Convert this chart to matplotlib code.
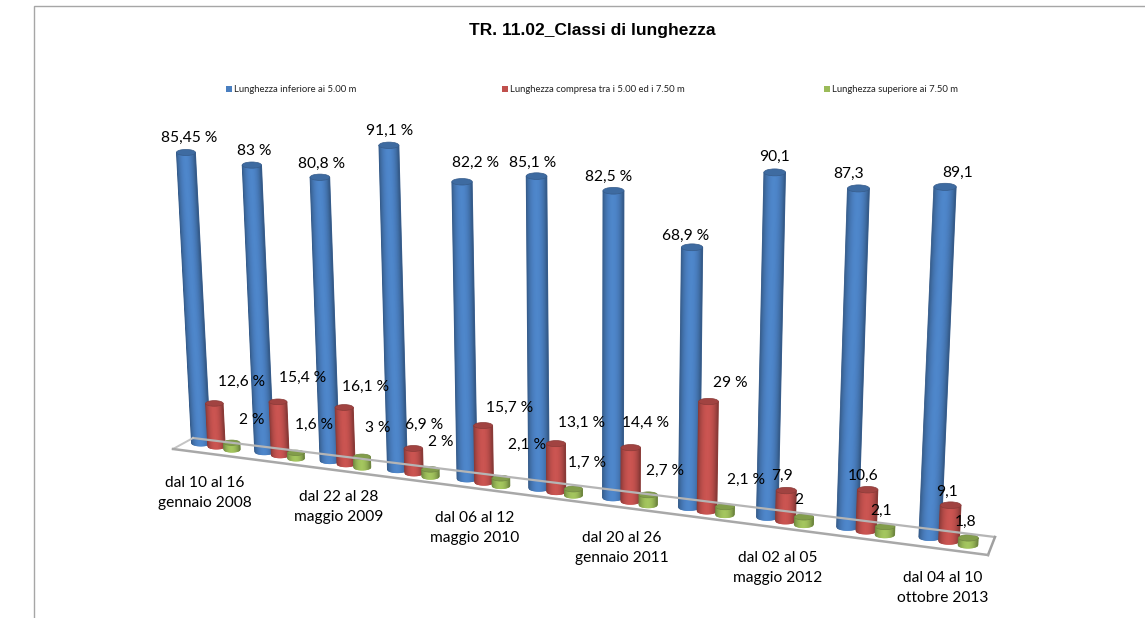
import numpy as np
import matplotlib
matplotlib.use("Agg")
import matplotlib.pyplot as plt
from matplotlib.collections import PolyCollection
from matplotlib.patches import Ellipse, Rectangle

series_names = ["Lunghezza inferiore ai 5.00 m",
                "Lunghezza compresa tra i 5.00 ed i 7.50 m",
                "Lunghezza superiore ai 7.50 m"]
series_colors = ["#4a7fc0", "#c0504d", "#9bbb59"]

lung_inf = [85.45, 83, 80.8, 91.1, 82.2, 85.1, 82.5, 68.9, 90.1, 87.3, 89.1]
lung_med = [12.6, 15.4, 16.1, 6.9, 15.7, 13.1, 14.4, 29, 7.9, 10.6, 9.1]
lung_sup = [2, 1.6, 3, 2, 2.1, 1.7, 2.7, 2.1, 2, 2.1, 1.8]
all_series = [lung_inf, lung_med, lung_sup]
# the last three groups have no % sign in the original
n_with_percent = 8

cat_labels = ["dal 10 al 16\ngennaio 2008", "dal 22 al 28\nmaggio 2009", "dal 06 al 12\nmaggio 2010",
              "dal 20 al 26\ngennaio 2011", "dal 02 al 05\nmaggio 2012", "dal 04 al 10\nottobre 2013"]

# hand placed label positions, same as in the original chart
pos_inf = [(189, 138), (254, 151), (321, 164), (390, 131), (476, 163), (533, 163),
           (609, 177), (686, 236), (774, 157), (849, 174), (958, 173)]
pos_med = [(241, 382), (303, 378), (365, 387), (424, 425), (510, 408), (582, 423),
           (645, 423), (730, 383), (782, 476), (863, 476), (947, 492)]
pos_sup = [(252, 420), (314, 425), (378, 428), (441, 442), (527, 445), (587, 463),
           (665, 471), (746, 480), (799, 500), (881, 511), (966, 522)]
pos_cat = [(205, 493), (339, 507), (475, 528), (622, 548), (778, 568), (943, 588)]
all_pos = [pos_inf, pos_med, pos_sup]

W, H = 1145, 618
fig = plt.figure(figsize=(W / 100, H / 100), dpi=100)
ax = fig.add_axes([0, 0, 1, 1])
ax.set_xlim(0, W)
ax.set_ylim(H, 0)
ax.axis("off")


def shade(color, k):
    rgb = np.array(matplotlib.colors.to_rgb(color)) * k
    return tuple(np.clip(rgb, 0, 1))


def project(group, ser, val):
    # fake perspective: floor runs down to the right, columns lean out from x=600
    off = 15.5 + 0.35 * group
    x = 201 + 62.3 * group + 1.06 * group ** 2 + ser * off
    y = 443 + 8.6 * group + 0.08 * group ** 2 + ser * 0.35 * off * 0.6
    h = val * (3.40 + 0.053 * group)
    return x, y, x + (x - 600) * h * 1.3e-4, y - h


def cylinder(group, ser, val, color):
    xb, yb, xt, yt = project(group, ser, val)
    w = [19, 17.5, 16.5][ser] + 0.33 * group
    e = w * 0.16
    n = 24
    verts, cols = [], []
    for i in range(n):
        u0, u1 = i / n, (i + 1) / n
        d0 = e * np.sqrt(max(1 - (2 * u0 - 1) ** 2, 0))
        d1 = e * np.sqrt(max(1 - (2 * u1 - 1) ** 2, 0))
        verts.append([(xb + (u0 - .5) * w, yb + d0), (xb + (u1 - .5) * w, yb + d1),
                      (xt + (u1 - .5) * w, yt + d1), (xt + (u0 - .5) * w, yt + d0)])
        um = (u0 + u1) / 2
        cols.append(shade(color, 0.66 + 0.40 * np.sin(np.pi * um) ** 0.7))
    ax.add_collection(PolyCollection(verts, facecolors=cols, edgecolors=cols, linewidths=0.6))
    ax.add_patch(Ellipse((xt, yt), w, 2 * e, facecolor=shade(color, 0.84),
                         edgecolor=shade(color, 0.72), linewidth=0.5))


# chart frame, only top and left are visible
ax.plot([34, 34, W], [H, 6, 6], color="#a6a6a6", lw=1.0, solid_joinstyle="miter")

ax.text(592, 31, "TR. 11.02_Classi di lunghezza", family="Liberation Sans", fontweight="bold",
        fontsize=12.5, ha="center", va="center", color="black")

for sx, name, col in zip([226, 502, 824], series_names, series_colors):
    ax.add_patch(Rectangle((sx, 86), 6, 6, facecolor=col, edgecolor="none"))
    ax.text(sx + 7.5, 89.3, name, family="Lato", fontsize=6.8, ha="left", va="center", color="#222222")

# floor plate
ax.plot([193, 995], [438, 537], color="#b5b5b5", lw=1.6)
ax.plot([173, 193], [449, 438], color="#c4c4c4", lw=1.4)
ax.plot([988, 995], [555, 537], color="#a0a0a0", lw=1.8)
ax.plot([173, 988], [449, 555], color="#a8a8a8", lw=1.8)

for g in range(len(lung_inf)):
    for s, values in enumerate(all_series):
        cylinder(g, s, values[g], series_colors[s])

for s, values in enumerate(all_series):
    for g, v in enumerate(values):
        txt = f"{v:g}".replace(".", ",")
        if g < n_with_percent:
            txt += " %"
        ax.text(all_pos[s][g][0], all_pos[s][g][1], txt, family="Lato", fontsize=11.2,
                ha="center", va="center", color="black", zorder=5)

for (cx, cy), lab in zip(pos_cat, cat_labels):
    ax.text(cx, cy, lab, family="Lato", fontsize=11.2, ha="center", va="center",
            linespacing=1.6, color="black", zorder=5)

fig.savefig("out.png", dpi=100)
